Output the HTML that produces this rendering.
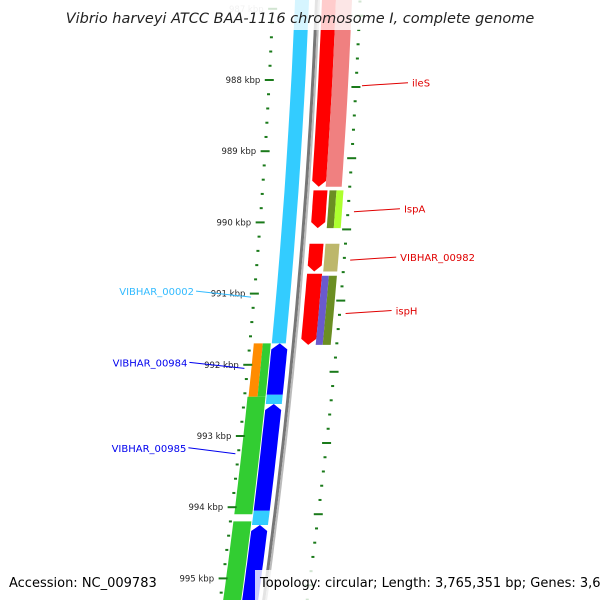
<!DOCTYPE html>
<html><head><meta charset="utf-8"><style>
body{margin:0;background:#fff}
svg{display:block;font-family:"DejaVu Sans","Liberation Sans",sans-serif}
</style></head><body>
<svg id="map" width="600" height="600" viewBox="0 0 600 600">
<rect width="600" height="600" fill="#fff"/>
<g id="tracks"></g>
<g id="ticks"></g>
<g id="labels"></g>
<rect x="0" y="0" width="600" height="30" fill="#fff" opacity="0.8"/>
<text x="300" y="23" text-anchor="middle" font-size="14.5" font-style="italic" fill="#222">Vibrio harveyi ATCC BAA-1116 chromosome I, complete genome</text>
<text x="9" y="587" font-size="13" fill="#000">Accession: NC_009783</text>
<rect x="255" y="570" width="345" height="30" fill="#fff" opacity="0.8"/>
<text x="260" y="587" font-size="13" fill="#000">Topology: circular; Length: 3,765,351 bp; Genes: 3,688</text>
</svg>
<script>
// data (kbp positions)
const majorTicks = [987,988,989,990,991,992,993,994,995];
const tickLabels = ["987 kbp","988 kbp","989 kbp","990 kbp","991 kbp","992 kbp","993 kbp","994 kbp","995 kbp"];
const geneNames = ["ileS-a","ileS-b","ispA","ispA-b","ispA-c","g00982","g00982b","ispH","ispH-b","ispH-c","lb1","b1","lb2","b2","lb3","b3","or1","gr1","gr2","gr3"];
const geneStart = [986.6,986.6,989.55,989.55,989.55,990.3,990.3,990.72,990.75,990.75,986.6,991.7,992.42,992.55,994.05,994.25,991.7,991.7,992.45,994.2];
const geneEnd   = [989.5,989.5,990.08,990.08,990.08,990.69,990.69,991.72,991.72,991.72,991.7,992.42,992.55,994.05,994.25,995.4,992.45,992.45,994.1,995.4];
const geneStrand= [-1,0,-1,0,0,-1,0,-1,0,0,0,1,0,1,0,1,0,0,0,0];
const geneLane  = [[4,18],[18,34],[6,20],[22,29],[29,36],[6,20],[22,36],[6,21],[21,28],[28,36],[-23,-9],[-23,-7],[-23,-7],[-23,-7],[-23,-7],[-23,-7],[-41,-32],[-32,-24],[-42,-24],[-42,-24]];
const geneColor = ["#ff0000","#f08080","#ff0000","#6b8e23","#adff2f","#ff0000","#bdb76b","#ff0000","#6a5acd","#6b8e23","#33ccff","#0000ff","#33ccff","#0000ff","#33ccff","#0000ff","#ff8c00","#32cd32","#32cd32","#32cd32"];
const labelText = ["ileS","IspA","VIBHAR_00982","ispH","VIBHAR_00002","VIBHAR_00984","VIBHAR_00985"];
const labelKbp  = [988.08,989.85,990.53,991.28,991.05,992.05,993.25];
const labelColor= ["#e00000","#e00000","#e00000","#e00000","#33bbff","#0000ee","#0000ee"];

const NS="http://www.w3.org/2000/svg";
const yOf = k => 80 + (k-988)*71.2;
const xOf = y => 318 - 0.04*y - 0.00008*y*y;
function mk(tag, attrs, parent){const e=document.createElementNS(NS,tag);for(const k in attrs)e.setAttribute(k,attrs[k]);parent.appendChild(e);return e;}
const T=document.getElementById('tracks'), K=document.getElementById('ticks'), L=document.getElementById('labels');

function strip(y1,y2,a,b,strand){
  const pts=[],back=[];const n=12;
  let ya=y1, yb=y2;
  if(strand===-1) yb=y2-6; if(strand===1) ya=y1+6;
  for(let i=0;i<=n;i++){const y=ya+(yb-ya)*i/n;pts.push([xOf(y)+a,y]);back.push([xOf(y)+b,y]);}
  let p=pts.slice();
  if(strand===1) p.unshift([xOf(y1)+(a+b)/2,y1]);
  if(strand===-1) p.push([xOf(y2)+(a+b)/2,y2]);
  p=p.concat(back.reverse());
  return p.map(q=>q[0].toFixed(1)+","+q[1].toFixed(1)).join(" ");
}
// backbone
for(const [off,w,c] of [[-1.5,3,"#777"],[1,2,"#bbb"]]){
  let d="";for(let y=-5;y<=605;y+=10){d+=(y<0?"M":"L")+(xOf(y)+off).toFixed(1)+","+y;}
  const e=mk('path',{d:d,stroke:c,'stroke-width':w,fill:'none'},T);
  
}
for(let i=0;i<geneNames.length;i++){
  const y1=yOf(geneStart[i]),y2=yOf(geneEnd[i]);
  const e=mk('polygon',{points:strip(y1,y2,geneLane[i][0],geneLane[i][1],geneStrand[i]),fill:geneColor[i]},T);
  
  
}
// ticks
for(let k=986.8;k<=995.5;k+=0.2){
  const kk=Math.round(k*10)/10, y=yOf(kk), x=xOf(y);
  const major=Math.abs(kk-Math.round(kk))<0.01;
  const w=major?9:3;
  const e1=mk('line',{x1:x-45-w/2,x2:x-45+w/2,y1:y,y2:y,stroke:'#1a7a1a','stroke-width':2},K);
  
  const yo=y+7, xo=xOf(yo);
  const e2=mk('line',{x1:xo+42-w/2,x2:xo+42+w/2,y1:yo,y2:yo,stroke:'#1a7a1a','stroke-width':2},K);
  
}
majorTicks.forEach((k,i)=>{
  const y=yOf(k),x=xOf(y);
  const t=mk('text',{x:x-54,y:y+3,'text-anchor':'end','font-size':8.5,fill:k===987?'#bbb':'#222'},K);
  t.textContent=tickLabels[i];
  
});
// labels
labelText.forEach((s,i)=>{
  const y=yOf(labelKbp[i]),x=xOf(y);const right=i<4;
  let lx1,lx2,tx,ty;
  if(right){lx1=x+48;lx2=x+94;tx=lx2+4;ty=y-3;}
  else{lx1=x-48;lx2=lx1-(i===6?47:55);tx=lx2-2;ty=y-6;}
  const ln=mk('line',{x1:lx1,y1:y,x2:lx2,y2:ty,stroke:labelColor[i],'stroke-width':1},L);
  
  const t=mk('text',{x:tx,y:ty+4,'font-size':10,fill:labelColor[i],'text-anchor':right?'start':'end'},L);
  t.textContent=s;
  
});
</script>
</body></html>
